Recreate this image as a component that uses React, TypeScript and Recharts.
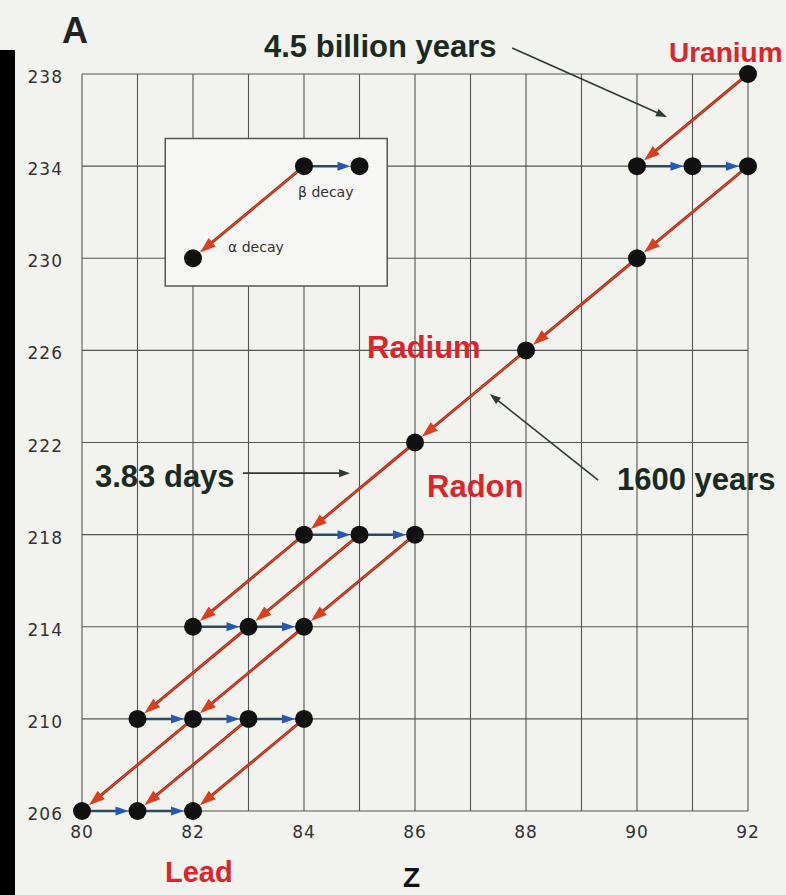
import { ScatterChart, Scatter, XAxis, YAxis, CartesianGrid, ReferenceLine, ReferenceArea } from 'recharts';

// proton number Z (x) and mass number A (y)
const zTicks = [80, 81, 82, 83, 84, 85, 86, 87, 88, 89, 90, 91, 92];
const aTicks = [206, 210, 214, 218, 222, 226, 230, 234, 238];

const nuclides = [
  { z: 92, a: 238 }, { z: 90, a: 234 }, { z: 91, a: 234 }, { z: 92, a: 234 },
  { z: 90, a: 230 }, { z: 88, a: 226 }, { z: 86, a: 222 },
  { z: 84, a: 218 }, { z: 85, a: 218 }, { z: 86, a: 218 },
  { z: 82, a: 214 }, { z: 83, a: 214 }, { z: 84, a: 214 },
  { z: 81, a: 210 }, { z: 82, a: 210 }, { z: 83, a: 210 }, { z: 84, a: 210 },
  { z: 80, a: 206 }, { z: 81, a: 206 }, { z: 82, a: 206 },
];

// [zFrom, aFrom, zTo, aTo]
const alphaDecays = [
  [92, 238, 90, 234], [92, 234, 90, 230], [90, 230, 88, 226], [88, 226, 86, 222],
  [86, 222, 84, 218], [84, 218, 82, 214], [85, 218, 83, 214], [86, 218, 84, 214],
  [83, 214, 81, 210], [84, 214, 82, 210], [82, 210, 80, 206], [83, 210, 81, 206],
  [84, 210, 82, 206],
];
const betaDecays = [
  [90, 234, 91, 234], [91, 234, 92, 234], [84, 218, 85, 218], [85, 218, 86, 218],
  [82, 214, 83, 214], [83, 214, 84, 214], [81, 210, 82, 210], [82, 210, 83, 210],
  [83, 210, 84, 210], [80, 206, 81, 206], [81, 206, 82, 206],
];

// inset key
const keyBox = { z1: 81.5, z2: 85.5, a1: 228.8, a2: 235.2 };
const keyDots = [{ z: 84, a: 234 }, { z: 85, a: 234 }, { z: 82, a: 230 }];
const keyAlpha = [84, 234, 82, 230];
const keyBeta = [84, 234, 85, 234];

// half-life pointers
const notes = [
  [87.75, 239.13, 90.54, 236.13],
  [82.9, 220.67, 84.83, 220.67],
  [89.3, 220.37, 87.35, 224.1],
];

const R = 9;

const arrow = (kind: 'alpha' | 'beta' | 'note') => (p: any) => {
  const { x1, y1, x2, y2 } = p;
  const dx = x2 - x1;
  const dy = y2 - y1;
  const len = Math.hypot(dx, dy) || 1;
  const ux = dx / len;
  const uy = dy / len;
  const gap = kind === 'note' ? 0 : R;
  const hl = kind === 'alpha' ? 16 : kind === 'beta' ? 13 : 11;
  const hw = kind === 'alpha' ? 11 : kind === 'beta' ? 9 : 8;
  const tx = x2 - ux * gap;
  const ty = y2 - uy * gap;
  const bx = tx - ux * hl;
  const by = ty - uy * hl;
  const pts = `${tx},${ty} ${bx - uy * hw / 2},${by + ux * hw / 2} ${bx + uy * hw / 2},${by - ux * hw / 2}`;
  const line = kind === 'alpha' ? '#ad2a1a' : kind === 'beta' ? '#2d4a5e' : '#2e3a33';
  const head = kind === 'alpha' ? '#d8401f' : kind === 'beta' ? '#2556b8' : '#2e3a33';
  const w = kind === 'alpha' ? 3 : kind === 'beta' ? 2.5 : 1.6;
  return (
    <g>
      <line x1={x1} y1={y1} x2={bx + ux * 3} y2={by + uy * 3} stroke={line} strokeWidth={w} />
      {kind === 'alpha' && (
        <line x1={x1} y1={y1} x2={bx} y2={by} stroke="#e8703c" strokeWidth={0.8} />
      )}
      <polygon points={pts} fill={head} />
    </g>
  );
};

const dot = (p: any) => <circle cx={p.cx} cy={p.cy} r={R} fill="#111" />;

const seg = (d: number[], kind: 'alpha' | 'beta' | 'note', key: string) => (
  <ReferenceLine
    key={key}
    segment={[{ x: d[0], y: d[1] }, { x: d[2], y: d[3] }]}
    ifOverflow="visible"
    shape={arrow(kind)}
  />
);

const red = '#d9252b';
const ink = '#1b2a1e';
const bold = { fontFamily: 'Liberation Sans, Arial, sans-serif', fontWeight: 700 } as const;
const tickStyle = { fill: '#333', fontSize: 17, fontFamily: 'DejaVu Sans', letterSpacing: 1 };

export default function App() {
  return (
    <div style={{ position: 'absolute', left: 0, top: 0, width: 786, height: 895, background: '#f2f2ef', overflow: 'hidden' }}>
      <div style={{ position: 'absolute', left: 0, top: 50, width: 15, height: 845, background: '#000' }} />
      <ScatterChart width={786} height={895} margin={{ top: 74, right: 38, left: 22, bottom: 54 }}>
        <CartesianGrid stroke="#555" strokeWidth={1.1} />
        <XAxis
          type="number"
          dataKey="z"
          domain={[80, 92]}
          ticks={zTicks}
          interval={0}
          tickFormatter={(v: number) => (v % 2 === 0 ? String(v) : '')}
          axisLine={false}
          tickLine={false}
          tickSize={0}
          tickMargin={15}
          height={30}
          tick={tickStyle}
        />
        <YAxis
          type="number"
          dataKey="a"
          domain={[206, 238]}
          ticks={aTicks}
          interval={0}
          axisLine={false}
          tickLine={false}
          tickSize={0}
          tickMargin={19}
          width={60}
          tick={{ ...tickStyle, dy: 3 }}
        />
        <ReferenceArea
          x1={keyBox.z1}
          x2={keyBox.z2}
          y1={keyBox.a1}
          y2={keyBox.a2}
          fill="#f6f6f4"
          fillOpacity={1}
          stroke="#555"
          strokeWidth={1.5}
        />
        {alphaDecays.map((d, i) => seg(d, 'alpha', 'a' + i))}
        {betaDecays.map((d, i) => seg(d, 'beta', 'b' + i))}
        {seg(keyAlpha, 'alpha', 'ka')}
        {seg(keyBeta, 'beta', 'kb')}
        {notes.map((d, i) => seg(d, 'note', 'n' + i))}
        <Scatter data={nuclides} shape={dot} isAnimationActive={false} />
        <Scatter data={keyDots} shape={dot} isAnimationActive={false} />
      </ScatterChart>
      <svg width={786} height={895} style={{ position: 'absolute', left: 0, top: 0, pointerEvents: 'none' }}>
        <text x={62} y={43} fontSize={36} fill="#222" style={bold}>A</text>
        <text x={264} y={57} fontSize={31} fill={ink} style={bold}>4.5 billion years</text>
        <text x={669} y={62} fontSize={28} fill={red} style={bold}>Uranium</text>
        <text x={367} y={358} fontSize={31} fill={red} style={bold}>Radium</text>
        <text x={427} y={497} fontSize={31} fill={red} style={bold}>Radon</text>
        <text x={95} y={487} fontSize={31} fill={ink} style={bold}>3.83 days</text>
        <text x={617} y={490} fontSize={31} fill={ink} style={bold}>1600 years</text>
        <text x={165} y={882} fontSize={29} fill={red} style={bold}>Lead</text>
        <text x={403} y={887} fontSize={28} fill="#111" style={bold}>Z</text>
        <text x={298} y={197} fontSize={14} fill="#333" fontFamily="DejaVu Sans">β decay</text>
        <text x={228} y={252} fontSize={14} fill="#333" fontFamily="DejaVu Sans">α decay</text>
      </svg>
    </div>
  );
}
